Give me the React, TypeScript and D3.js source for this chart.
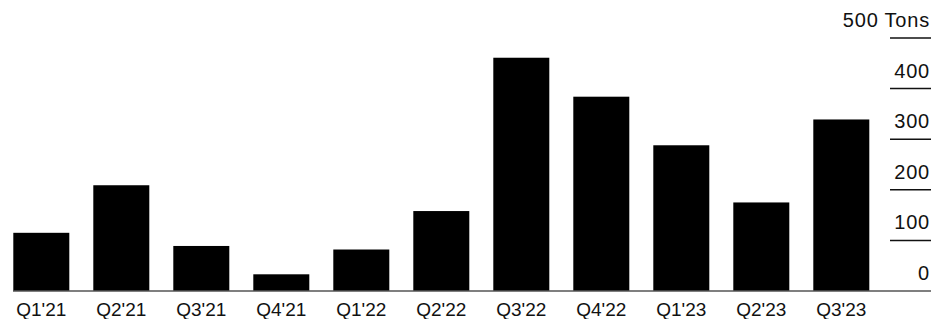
import { useEffect, useRef } from 'react'
import * as d3 from 'd3'

const quarters = ["Q1'21", "Q2'21", "Q3'21", "Q4'21", "Q1'22", "Q2'22", "Q3'22", "Q4'22", "Q1'23", "Q2'23", "Q3'23"]
const tons = [115, 209, 89, 33, 82, 158, 461, 384, 288, 175, 339]
const yTicks = [0, 100, 200, 300, 400, 500]

const W = 931
const H = 319

export default function App() {
  const svgRef = useRef<SVGSVGElement | null>(null)

  useEffect(() => {
    const svgEl = svgRef.current
    if (!svgEl) return
    const svg = d3.select(svgEl)
    svg.selectAll('*').remove()

    const x = d3.scaleBand<string>().domain(quarters).range([1.3, 881.3]).paddingInner(0.3).paddingOuter(0.15)
    const y = d3.scaleLinear().domain([0, 500]).range([291, 38])

    const font = "'Liberation Sans', Arial, sans-serif"

    // bars
    svg
      .append('g')
      .selectAll('rect')
      .data(tons)
      .enter()
      .append('rect')
      .attr('x', (_, i) => x(quarters[i]) ?? 0)
      .attr('y', (d) => y(d))
      .attr('width', x.bandwidth())
      .attr('height', (d) => y(0) - y(d))
      .attr('fill', '#000')

    // right axis: tick rules under each label
    const axis = svg.append('g')
    yTicks.forEach((t) => {
      if (t > 0) {
        axis
          .append('line')
          .attr('x1', 890)
          .attr('x2', W)
          .attr('y1', y(t))
          .attr('y2', y(t))
          .attr('stroke', '#111')
          .attr('stroke-width', 1.5)
      }
      axis
        .append('text')
        .attr('x', 930)
        .attr('y', y(t) - 11)
        .attr('text-anchor', 'end')
        .attr('font-family', font)
        .attr('font-size', 20)
        .attr('letter-spacing', 0.8)
        .attr('fill', '#111')
        .text(t === 500 ? '500 Tons' : String(t))
    })

    // baseline
    svg
      .append('line')
      .attr('x1', 13)
      .attr('x2', W)
      .attr('y1', y(0))
      .attr('y2', y(0))
      .attr('stroke', '#555')
      .attr('stroke-width', 1.5)

    // x labels
    svg
      .append('g')
      .selectAll('text')
      .data(quarters)
      .enter()
      .append('text')
      .attr('x', (d) => (x(d) ?? 0) + x.bandwidth() / 2)
      .attr('y', 316)
      .attr('text-anchor', 'middle')
      .attr('font-family', font)
      .attr('font-size', 19)
      .attr('fill', '#111')
      .text((d) => d)
  }, [])

  return (
    <svg
      ref={svgRef}
      width={W}
      height={H}
      style={{ position: 'absolute', left: 0, top: 0, background: '#fff' }}
    />
  )
}
